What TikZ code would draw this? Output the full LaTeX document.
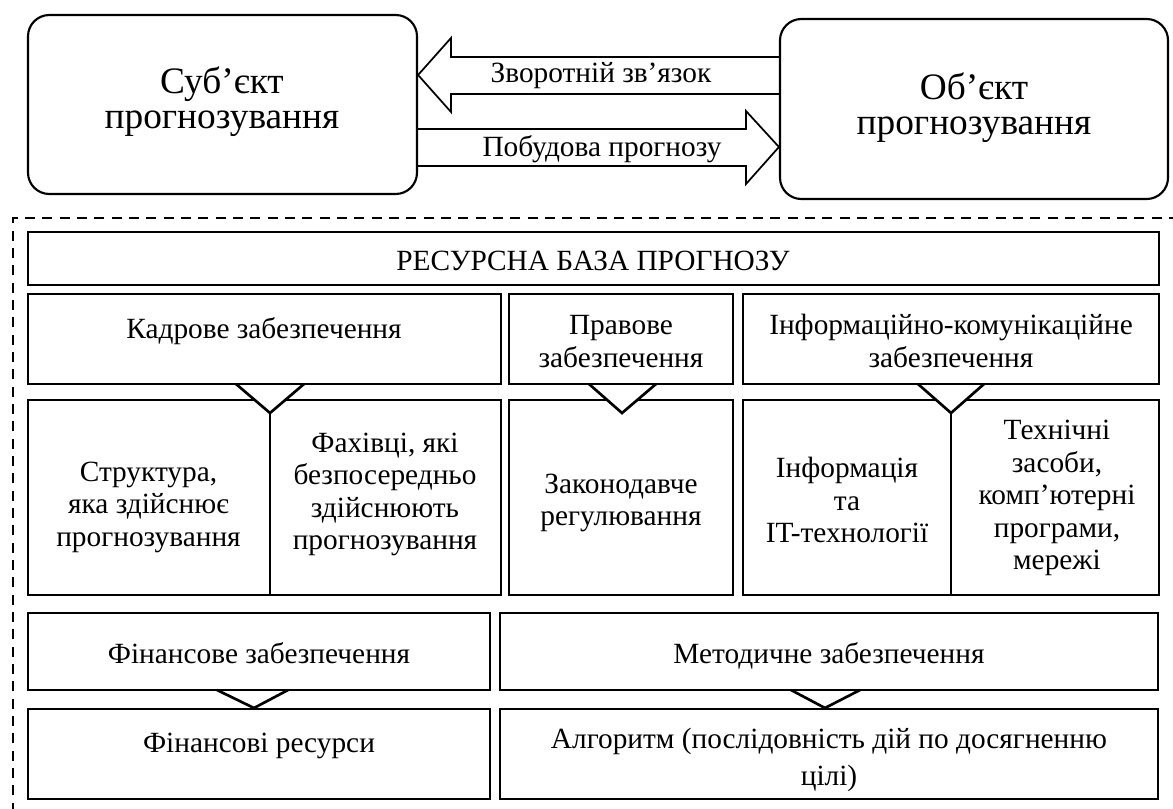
\documentclass[tikz,border=0pt]{standalone}
\usepackage{fontspec}
\setmainfont{Liberation Serif}
\usetikzlibrary{fit}
\begin{document}
\begin{tikzpicture}[x=0.75pt,y=-0.75pt,
  box/.style={draw, line width=2pt, inner sep=0pt},
  rbox/.style={draw, line width=1.6pt, rounded corners=16pt, inner sep=0pt},
  big/.style={font=\fontsize{28}{26.3}\selectfont, align=center, inner sep=0pt},
  txt/.style={font=\fontsize{22}{24.4}\selectfont, align=center, inner sep=0pt},
  one/.style={font=\fontsize{22}{24.4}\selectfont, inner sep=0pt, anchor=base},
  arr/.style={draw, line width=1.3pt, line join=miter},
  vee/.style={draw, line width=2pt, fill=white},
  border/.style={line width=1.8pt, dash pattern=on 7.5pt off 5.5pt}
]
\useasboundingbox (0,0) rectangle (1173,809);

% top part
\node[rbox, fit={(28,15) (417,194)}] (subj) {};
\node[rbox, fit={(780,19) (1168,199)}] (obj) {};
\node[big] (tsubj) at (222,102) {Суб’єкт\\прогнозування};
\node[big] (tobj) at (974,107.5) {Об’єкт\\прогнозування};

\draw[arr] (obj.west |- 0,57) -- (451,57) -- (451,38) -- (subj.east |- 0,75)
  -- (451,112) -- (451,94) -- (obj.west |- 0,94);
\draw[arr] (subj.east |- 0,129) -- (746,129) -- (746,111) -- (obj.west |- 0,147)
  -- (746,184) -- (746,166) -- (subj.east |- 0,166);
\node[one] (tzv) at (601,83) {Зворотній зв’язок};
\node[one] (tpob) at (602,157) {Побудова прогнозу};

% dashed frame
\draw[border] (13,830) -- (13,218) -- (1190,218);

% lower boxes (drawn first)
\node[box, fit={(28,400) (501,595)}] (kadrL) {};
\node[box, fit={(509,400) (733,595)}] (pravL) {};
\node[box, fit={(743,400) (1159,595)}] (infoL) {};
\node[box, fit={(28,709) (490,799)}] (finL) {};
\node[box, fit={(500,709) (1158,799)}] (metL) {};

% connectors
\coordinate (k1) at (270,413);
\coordinate (p1) at (622,413);
\coordinate (i1) at (951,413);
\coordinate (f1) at (254,708);
\coordinate (m1) at (825,708);
\draw[vee] (236,384) -- (k1) -- (304,384);
\draw[vee] (589,384) -- (p1) -- (656,384);
\draw[vee] (918,384) -- (i1) -- (984,384);
\draw[vee] (217,690) -- (f1) -- (288,690);
\draw[vee] (791,690) -- (m1) -- (860,690);
\draw[line width=2pt] (k1) -- (k1 |- kadrL.south);
\draw[line width=2pt] (i1) -- (i1 |- infoL.south);

% upper boxes
\node[box, fit={(28,232) (1159,285)}] (res) {};
\node[box, fit={(28,294) (501,384)}] (kadr) {};
\node[box, fit={(509,294) (733,384)}] (prav) {};
\node[box, fit={(743,294) (1159,384)}] (info) {};
\node[box, fit={(28,613) (490,690)}] (fin) {};
\node[box, fit={(500,613) (1158,690)}] (met) {};

% texts
\node[one] (tres) at (593,270) {РЕСУРСНА БАЗА ПРОГНОЗУ};
\node[one] (tkadr) at (264,338) {Кадрове забезпечення};
\node[txt] (tprav) at (621,341.5) {Правове\\забезпечення};
\node[txt] (tinfo) at (951,341) {Інформаційно-комунікаційне\\забезпечення};
\node[txt] (tstr) at (148.5,507) {Структура,\\яка здійснює\\прогнозування};
\node[txt] (tfah) at (385,494.5) {Фахівці, які\\безпосередньо\\здійснюють\\прогнозування};
\node[txt] (tzak) at (621,503) {Законодавче\\регулювання};
\node[txt] (tinf2) at (847,500) {Інформація\\та\\IT-технології};
\node[txt] (ttech) at (1057,498) {Технічні\\засоби,\\комп’ютерні\\програми,\\мережі};
\node[one] (tfin) at (259,663) {Фінансове забезпечення};
\node[one] (tmet) at (829,663) {Методичне забезпечення};
\node[one] (tfinr) at (259,752) {Фінансові ресурси};
\node[txt, font=\fontsize{22}{27.5}\selectfont] (talg) at (829,760) {Алгоритм (послідовність дій по досягненню\\цілі)};
\end{tikzpicture}
\end{document}
